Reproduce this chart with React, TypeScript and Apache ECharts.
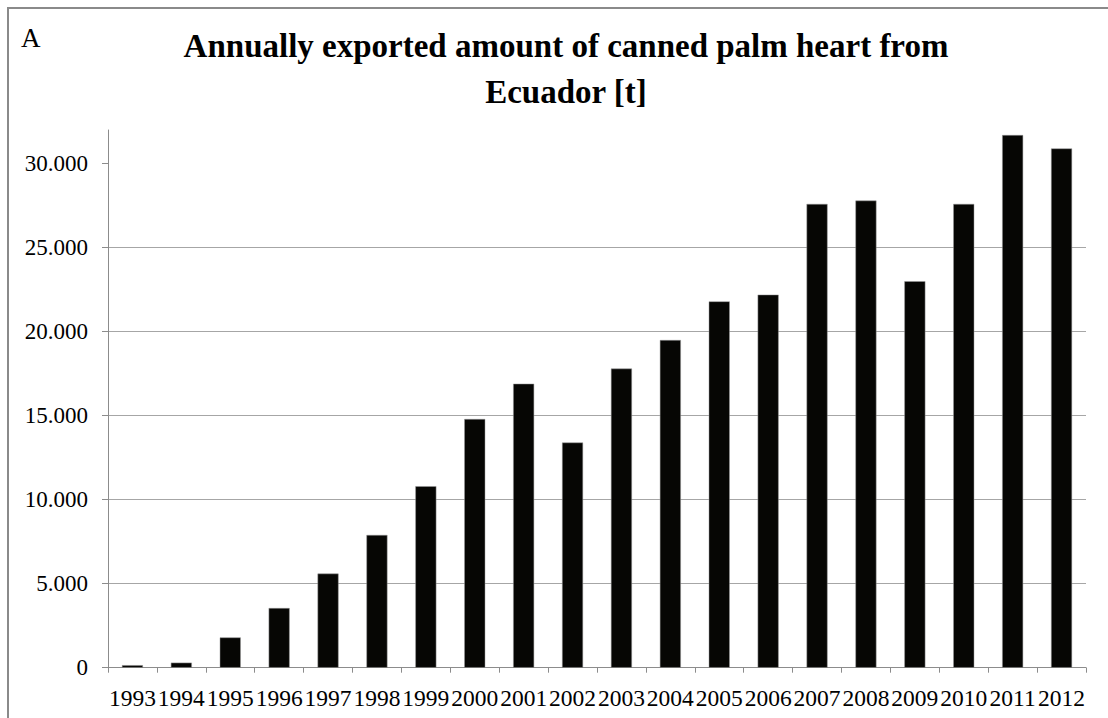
import React, { useEffect, useRef } from "react";
import * as echarts from "echarts";

const years = ["1993","1994","1995","1996","1997","1998","1999","2000","2001","2002","2003","2004","2005","2006","2007","2008","2009","2010","2011","2012"];
const exportsT = [150, 300, 1800, 3550, 5600, 7900, 10800, 14800, 16900, 13400, 17800, 19500, 21800, 22200, 27600, 27800, 23000, 27600, 31700, 30900];
const yTicks = [0, 5000, 10000, 15000, 20000, 25000, 30000];
const titleText = "Annually exported amount of canned palm heart from\nEcuador [t]";
const panelLabel = "A";

const fmt = (v: number) => String(v).replace(/\B(?=(\d{3})+(?!\d))/g, ".");

export default function App() {
  const ref = useRef<HTMLDivElement>(null);
  useEffect(() => {
    if (!ref.current) return;
    const chart = echarts.init(ref.current, null, { renderer: "svg" });
    const serif = "'Liberation Serif', 'Times New Roman', serif";
    chart.setOption({
      animation: false,
      backgroundColor: "#ffffff",
      title: {
        text: titleText,
        left: 561,
        top: 18,
        textAlign: "center",
        textStyle: { fontFamily: serif, fontWeight: "bold", fontSize: 33, lineHeight: 46, color: "#000" },
      },
      graphic: [
        {
          type: "polyline",
          shape: { points: [[8, 718], [8, 8], [1108, 8]] },
          style: { stroke: "#8a8a8a", lineWidth: 2, fill: "none" },
          silent: true,
        },
        {
          type: "text",
          x: 21,
          y: 24,
          style: { text: panelLabel, fontFamily: serif, fontSize: 27, fill: "#000" },
        },
      ],
      grid: { left: 108, right: 22, top: 130, bottom: 50.3, containLabel: false },
      xAxis: {
        type: "category",
        data: years,
        axisLine: { show: true, lineStyle: { color: "#8c8c8c", width: 1 } },
        axisTick: { show: true, length: 5, lineStyle: { color: "#8c8c8c" } },
        axisLabel: { interval: 0, margin: 18, fontFamily: serif, fontSize: 23.5, color: "#000" },
      },
      yAxis: {
        type: "value",
        min: 0,
        max: 32000,
        interval: 5000,
        axisLine: { show: true, lineStyle: { color: "#8c8c8c", width: 1 } },
        axisTick: { show: true, length: 6, lineStyle: { color: "#8c8c8c" }, customValues: yTicks },
        axisLabel: { margin: 20, fontFamily: serif, fontSize: 23, color: "#000", formatter: (v: number) => fmt(v), customValues: yTicks },
        splitLine: { show: true, showMaxLine: false, lineStyle: { color: "#a6a6a6", width: 1 } },
      },
      series: [
        {
          type: "bar",
          data: exportsT,
          barWidth: 21,
          itemStyle: { color: "#060604", borderColor: "#9a9a9a", borderWidth: 0.5 },
        },
      ],
    });
    return () => chart.dispose();
  }, []);
  return <div ref={ref} style={{ width: 1108, height: 718, position: "absolute", left: 0, top: 0 }} />;
}
